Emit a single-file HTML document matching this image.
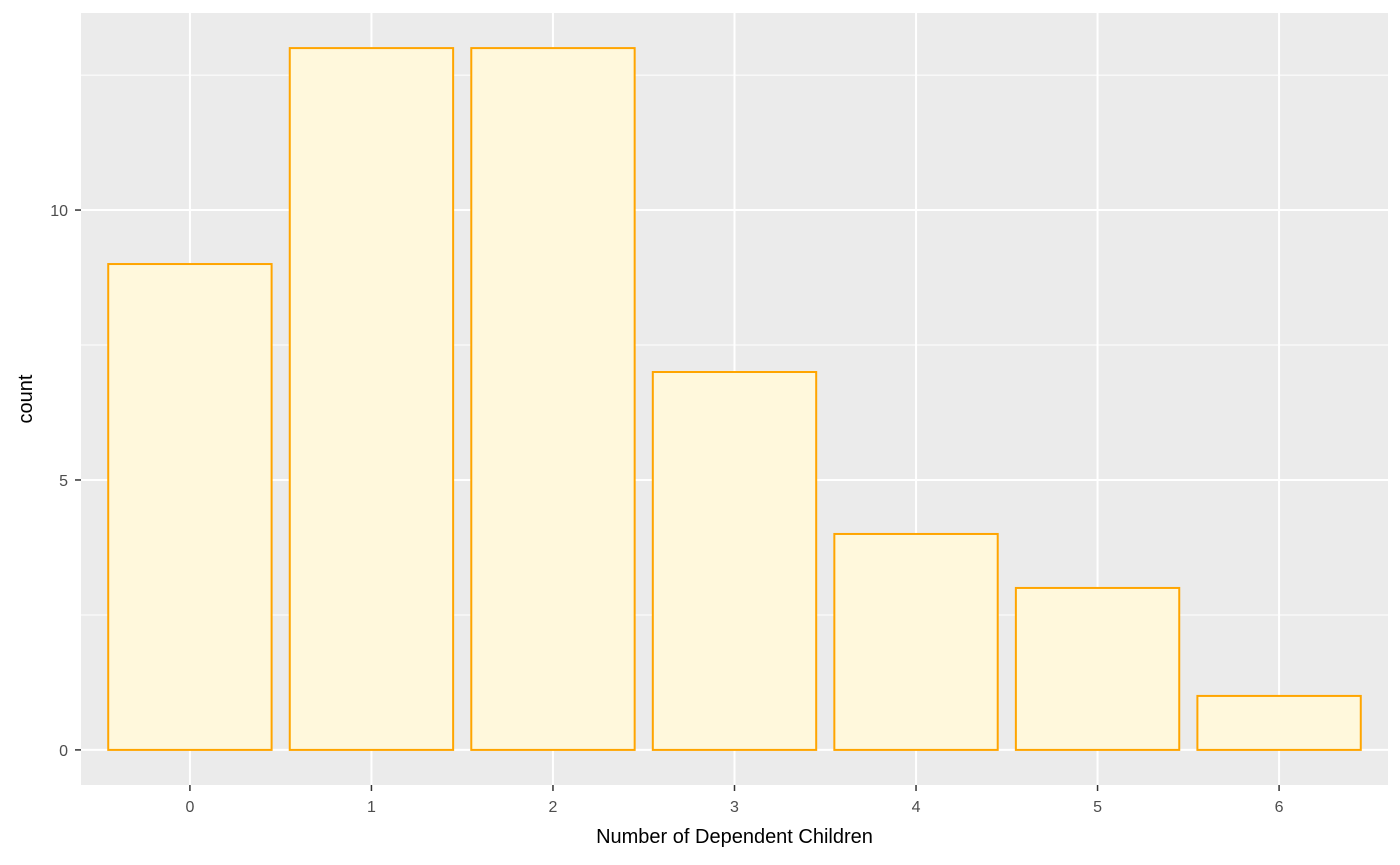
<!DOCTYPE html>
<html><head><meta charset="utf-8"><style>
body{margin:0;background:#fff;}
svg{display:block;font-family:"Liberation Sans",sans-serif;}
</style></head><body>
<svg id="chart" width="1400" height="865"></svg>
<script>
const categories=["0","1","2","3","4","5","6"];
const counts=[9,13,13,7,4,3,1];
const yTicks=[0,5,10];
const yMinor=[2.5,7.5,12.5];
const svg=document.getElementById('chart');
const NS='http://www.w3.org/2000/svg';
const L=81,R=1388,T=13,B=785;
const yMax=Math.max(...counts);
const padY=yMax*0.05;
const y=v=>B-(v+padY)/(yMax+2*padY)*(B-T);
const step=(R-L)/(categories.length-1+1.2);
const x=i=>L+step*(0.6+i);
function mk(tag,attrs,parent){const e=document.createElementNS(NS,tag);for(const k in attrs)e.setAttribute(k,attrs[k]);(parent||svg).appendChild(e);return e;}
const bg=mk('rect',{x:L,y:T,width:R-L,height:B-T,fill:'#ebebeb'});


yMinor.forEach(v=>{const l=mk('line',{x1:L,x2:R,y1:y(v),y2:y(v),stroke:'#fff','stroke-width':1});

});
yTicks.forEach(v=>{const l=mk('line',{x1:L,x2:R,y1:y(v),y2:y(v),stroke:'#fff','stroke-width':2});


const t=mk('line',{x1:L-6,x2:L,y1:y(v),y2:y(v),stroke:'#333','stroke-width':1.5});


const tx=mk('text',{x:L-13,y:y(v)+6,'text-anchor':'end','font-size':16,fill:'#4d4d4d'});tx.textContent=v;

});
categories.forEach((c,i)=>{const l=mk('line',{x1:x(i),x2:x(i),y1:T,y2:B,stroke:'#fff','stroke-width':2});


const t=mk('line',{x1:x(i),x2:x(i),y1:B,y2:B+6,stroke:'#333','stroke-width':1.5});


const tx=mk('text',{x:x(i),y:B+27,'text-anchor':'middle','font-size':16,fill:'#4d4d4d'});tx.textContent=c;

});
counts.forEach((v,i)=>{const w=step*0.9;
const r=mk('rect',{x:x(i)-w/2,y:y(v),width:w,height:y(0)-y(v),fill:'#fff8dc',stroke:'#ffa500','stroke-width':2});

});
const xt=mk('text',{x:(L+R)/2,y:843,'text-anchor':'middle','font-size':20,fill:'#000'});xt.textContent='Number of Dependent Children';


const yt=mk('text',{x:0,y:0,'text-anchor':'middle','font-size':20,fill:'#000',transform:'translate(32,'+((T+B)/2)+') rotate(-90)'});yt.textContent='count';


</script>
</body></html>
